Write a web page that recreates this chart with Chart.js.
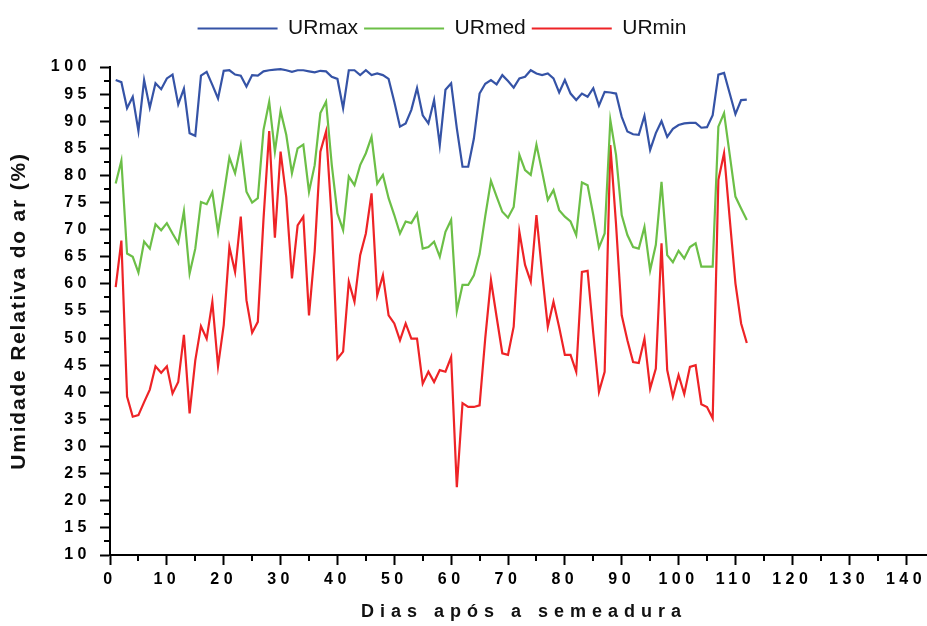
<!DOCTYPE html>
<html lang="pt">
<head>
<meta charset="utf-8">
<title>Umidade Relativa do ar</title>
<script src="https://cdn.jsdelivr.net/npm/chart.js@4.4.1/dist/chart.umd.min.js"></script>
<style>
  html, body { margin: 0; padding: 0; background: #ffffff; }
  #wrap { width: 927px; height: 626px; }
</style>
</head>
<body>
<div id="wrap"><canvas id="chart" width="927" height="626"></canvas></div>
<script>
// Days after sowing
const days = [
  1, 2, 3, 4, 5, 6, 7, 8, 9, 10, 11, 12, 13, 14, 15, 16, 17, 18, 19, 20,
  21, 22, 23, 24, 25, 26, 27, 28, 29, 30, 31, 32, 33, 34, 35, 36, 37, 38, 39, 40,
  41, 42, 43, 44, 45, 46, 47, 48, 49, 50, 51, 52, 53, 54, 55, 56, 57, 58, 59, 60,
  61, 62, 63, 64, 65, 66, 67, 68, 69, 70, 71, 72, 73, 74, 75, 76, 77, 78, 79, 80,
  81, 82, 83, 84, 85, 86, 87, 88, 89, 90, 91, 92, 93, 94, 95, 96, 97, 98, 99, 100,
  101, 102, 103, 104, 105, 106, 107, 108, 109, 110, 111, 112
];

// Daily maximum relative humidity (%)
const urMax = [
  97.6, 97.2, 92.4, 94.5, 88.2, 97.6, 92.5, 97.0, 95.9, 97.9,
  98.6, 93.1, 96.0, 87.8, 87.3, 98.4, 99.1, 96.7, 94.2, 99.3,
  99.4, 98.6, 98.4, 96.4, 98.5, 98.4, 99.2, 99.4, 99.5, 99.6,
  99.4, 99.1, 99.4, 99.4, 99.2, 99.0, 99.3, 99.2, 98.2, 97.8,
  92.4, 99.4, 99.4, 98.5, 99.4, 98.5, 98.8, 98.5, 97.8, 93.6,
  89.0, 89.6, 92.1, 96.1, 91.1, 89.6, 93.9, 85.6, 95.8, 97.0,
  88.7, 81.6, 81.6, 86.8, 95.1, 96.9, 97.6, 96.8, 98.5, 97.4,
  96.2, 97.9, 98.2, 99.4, 98.8, 98.5, 98.8, 97.9, 95.3, 97.6,
  95.1, 93.9, 95.1, 94.5, 96.1, 92.9, 95.4, 95.3, 95.1, 90.8,
  88.1, 87.6, 87.5, 91.0, 84.7, 87.8, 90.0, 87.1, 88.6, 89.3,
  89.6, 89.7, 89.7, 88.8, 88.9, 91.1, 98.6, 98.9, 95.1, 91.3,
  93.9, 94.0
];

// Daily mean relative humidity (%)
const urMed = [
  78.5, 82.7, 65.6, 65.0, 62.1, 67.8, 66.5, 71.0, 69.9, 71.2,
  69.3, 67.5, 73.4, 61.9, 66.5, 75.1, 74.7, 76.9, 69.6, 76.4,
  83.3, 80.4, 85.5, 77.0, 75.0, 75.8, 88.4, 93.6, 84.4, 91.9,
  87.5, 80.4, 85.0, 85.7, 77.0, 81.9, 91.5, 93.6, 82.0, 73.0,
  69.9, 79.8, 78.2, 81.9, 84.1, 87.1, 78.5, 80.1, 75.8, 72.7,
  69.3, 71.5, 71.2, 73.0, 66.5, 66.8, 67.8, 65.0, 69.6, 71.8,
  55.0, 59.8, 59.8, 61.6, 65.5, 72.5, 79.0, 76.1, 73.3, 72.2,
  74.2, 83.8, 81.0, 80.1, 85.7, 80.7, 75.5, 77.3, 73.6, 72.4,
  71.5, 69.0, 78.7, 78.2, 72.7, 66.7, 69.3, 90.2, 83.8, 72.7,
  69.0, 66.8, 66.5, 70.5, 62.5, 67.2, 78.8, 65.3, 64.0, 66.1,
  64.7, 66.8, 67.5, 63.2, 63.2, 63.2, 89.0, 91.5, 83.8, 76.1,
  73.9, 71.8
];

// Daily minimum relative humidity (%)
const urMin = [
  59.4, 68.0, 39.2, 35.5, 35.8, 38.2, 40.5, 44.8, 43.6, 44.8,
  39.8, 41.9, 50.6, 36.1, 45.9, 52.2, 49.9, 56.7, 44.8, 52.4,
  66.8, 62.2, 72.4, 57.0, 51.0, 53.0, 72.0, 88.2, 68.5, 84.4,
  76.0, 61.0, 70.8, 72.4, 54.2, 66.0, 84.4, 88.1, 72.0, 46.2,
  47.5, 60.4, 56.7, 65.3, 69.3, 76.7, 57.9, 61.6, 54.2, 52.7,
  49.6, 52.7, 49.9, 49.9, 41.6, 43.8, 41.9, 44.1, 43.8, 46.5,
  22.5, 38.0, 37.3, 37.3, 37.6, 50.0, 60.7, 53.9, 47.2, 46.9,
  52.1, 69.6, 63.5, 60.4, 72.7, 62.0, 52.1, 56.7, 52.0, 46.9,
  46.9, 43.8, 62.2, 62.4, 50.9, 40.1, 43.8, 85.6, 71.0, 54.2,
  49.6, 45.6, 45.4, 49.9, 40.7, 44.4, 67.5, 44.1, 39.2, 43.2,
  39.7, 44.7, 45.0, 37.8, 37.3, 35.2, 79.2, 84.1, 72.0, 60.1,
  52.7, 49.1
];

// Axis ticks
const xMajorTicks = [0, 10, 20, 30, 40, 50, 60, 70, 80, 90, 100, 110, 120, 130, 140];
const xMinorTicks = [5, 15, 25, 35, 45, 55, 65, 75, 85, 95, 105, 115, 125, 135];
const yMajorTicks = [10, 15, 20, 25, 30, 35, 40, 45, 50, 55, 60, 65, 70, 75, 80, 85, 90, 95, 100];
const yMinorTicks = [12.5, 17.5, 22.5, 27.5, 32.5, 37.5, 42.5, 47.5, 52.5, 57.5, 62.5, 67.5, 72.5, 77.5, 82.5, 87.5, 92.5, 97.5];

const xTitle = 'Dias após a semeadura';
const yTitle = 'Umidade Relativa do ar (%)';

const FONT = '"Liberation Sans", Arial, Helvetica, sans-serif';
const COLORS = { max: '#3553a6', med: '#6cbf47', min: '#ee2326' };

function series(values) {
  return days.map((d, i) => ({ x: d, y: values[i] }));
}

function lineSet(label, values, color) {
  return {
    label,
    data: series(values),
    borderColor: color,
    backgroundColor: color,
    borderWidth: 2.2,
    pointRadius: 0,
    pointHoverRadius: 0,
    tension: 0,
    fill: false
  };
}

// Extra room under the legend
const legendGap = {
  id: 'legendGap',
  beforeInit(chart) {
    const fit = chart.legend.fit;
    chart.legend.fit = function () {
      fit.call(this);
      this.height += 18;
    };
  },
  afterLayout(chart) {
    // nudge the legend row a little to the left
    chart.legend.left -= 11;
    chart.legend.right -= 11;
  }
};

// Spaced-out tick labels (tick labels are drawn after the datasets, z = 1)
const tickSpacing = {
  id: 'tickSpacing',
  afterDatasetsDraw(chart) { chart.ctx.letterSpacing = '4.5px'; },
  afterDraw(chart) { chart.ctx.letterSpacing = '0px'; }
};

// Minor ticks, x-axis run-out and axis titles
const axisDecor = {
  id: 'axisDecor',
  afterDraw(chart) {
    const { ctx, chartArea, scales, width } = chart;
    const xs = scales.x, ys = scales.y;
    ctx.save();
    ctx.strokeStyle = '#000';
    ctx.lineWidth = 2;
    ctx.beginPath();
    yMinorTicks.forEach(v => {
      const py = Math.round(ys.getPixelForValue(v));
      ctx.moveTo(chartArea.left - 6, py);
      ctx.lineTo(chartArea.left, py);
    });
    xMinorTicks.forEach(v => {
      const px = Math.round(xs.getPixelForValue(v));
      ctx.moveTo(px, chartArea.bottom);
      ctx.lineTo(px, chartArea.bottom + 6);
    });
    // the bottom axis line runs on to the edge
    ctx.moveTo(chartArea.right, chartArea.bottom);
    ctx.lineTo(width, chartArea.bottom);
    ctx.stroke();

    ctx.fillStyle = '#111';
    ctx.textAlign = 'center';
    ctx.textBaseline = 'middle';

    ctx.font = 'bold 18px ' + FONT;
    ctx.letterSpacing = '6px';
    ctx.fillText(xTitle, (chartArea.left + chartArea.right) / 2 + 16, chartArea.bottom + 57);

    ctx.letterSpacing = '1.8px';
    ctx.font = 'bold 21px ' + FONT;
    ctx.translate(19, (chartArea.top + chartArea.bottom) / 2);
    ctx.rotate(-Math.PI / 2);
    ctx.fillText(yTitle, 0, 0);
    ctx.restore();
  }
};

new Chart(document.getElementById('chart'), {
  type: 'line',
  data: {
    datasets: [
      lineSet('URmax', urMax, COLORS.max),
      lineSet('URmed', urMed, COLORS.med),
      lineSet('URmin', urMin, COLORS.min)
    ]
  },
  options: {
    responsive: false,
    animation: false,
    events: [],
    layout: { padding: { top: 12, right: 21, bottom: 0, left: 0 } },
    plugins: {
      legend: {
        position: 'top',
        align: 'center',
        labels: {
          usePointStyle: true,
          pointStyle: 'line',
          pointStyleWidth: 80,
          padding: 6,
          color: '#111',
          font: { family: FONT, size: 21 }
        }
      },
      tooltip: { enabled: false }
    },
    scales: {
      x: {
        type: 'linear',
        min: 0,
        max: 140,
        afterBuildTicks: s => { s.ticks = xMajorTicks.map(v => ({ value: v })); },
        afterFit: s => { s.height = 71; },
        grid: { drawOnChartArea: false, drawTicks: true, tickLength: 10, tickWidth: 2, tickColor: '#000' },
        border: { display: true, color: '#000', width: 2 },
        ticks: {
          z: 1,
          color: '#000',
          padding: 5,
          maxRotation: 0,
          autoSkip: false,
          font: { family: FONT, size: 16, weight: 'bold' }
        }
      },
      y: {
        type: 'linear',
        min: 10,
        max: 100,
        afterBuildTicks: s => { s.ticks = yMajorTicks.map(v => ({ value: v })); },
        afterFit: s => { s.width = 110; },
        grid: { drawOnChartArea: false, drawTicks: true, tickLength: 10, tickWidth: 2, tickColor: '#000' },
        border: { display: true, color: '#000', width: 2 },
        ticks: {
          z: 1,
          color: '#000',
          padding: 9,
          autoSkip: false,
          font: { family: FONT, size: 16, weight: 'bold' }
        }
      }
    }
  },
  plugins: [legendGap, tickSpacing, axisDecor]
});
</script>
</body>
</html>
